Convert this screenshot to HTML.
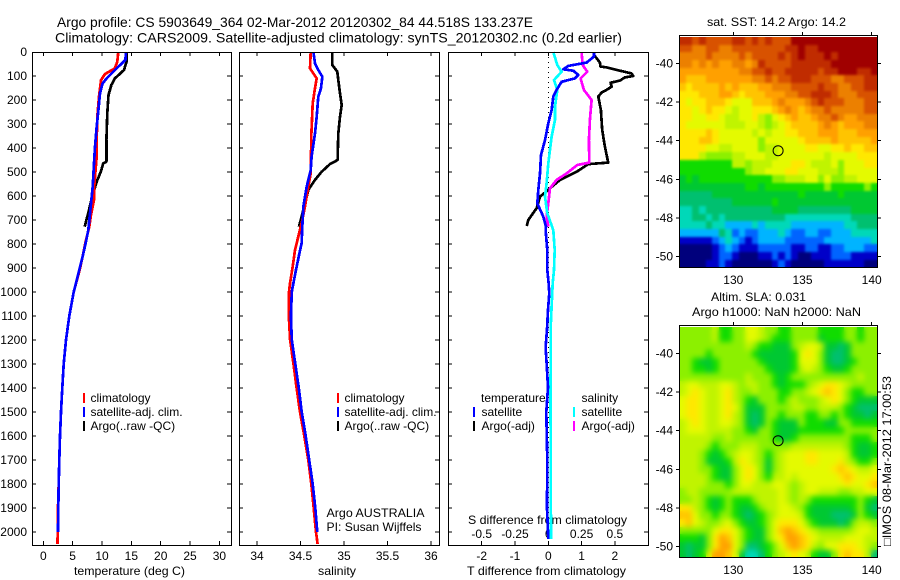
<!DOCTYPE html>
<html lang="en">
<head>
<meta charset="utf-8">
<title>Argo profile</title>
<style>
html,body{margin:0;padding:0;background:#fff;}
svg{display:block;font-family:"Liberation Sans",Arial,sans-serif;}
text{fill:#000;font-size:12px;}
</style>
</head>
<body>
<svg id="chart" xmlns="http://www.w3.org/2000/svg" width="900" height="580" viewBox="0 0 900 580">
<defs>
<filter id="smooth-sst" x="-5%" y="-5%" width="110%" height="110%" color-interpolation-filters="sRGB">
<feGaussianBlur in="SourceGraphic" stdDeviation="1.2" result="b"/>
<feMerge><feMergeNode in="SourceGraphic"/><feMergeNode in="b"/></feMerge>
</filter>
<filter id="smooth-sla" x="-5%" y="-5%" width="110%" height="110%" color-interpolation-filters="sRGB">
<feGaussianBlur in="SourceGraphic" stdDeviation="3" result="b"/>
<feMerge><feMergeNode in="SourceGraphic"/><feMergeNode in="b"/></feMerge>
</filter>
<clipPath id="clip-sst"><rect x="679" y="37" width="198" height="230"/></clipPath>
<clipPath id="clip-sla"><rect x="679" y="327" width="198" height="230"/></clipPath>
</defs>
<rect x="0" y="0" width="900" height="580" fill="#fff"/>
<text x="57" y="27" style="font-size:14px" textLength="476" lengthAdjust="spacingAndGlyphs">Argo profile: CS 5903649_364 02-Mar-2012 20120302_84 44.518S 133.237E</text>
<text x="55" y="42.5" style="font-size:14px" textLength="567" lengthAdjust="spacingAndGlyphs">Climatology: CARS2009. Satellite-adjusted climatology: synTS_20120302.nc (0.2d earlier)</text>
<text x="707" y="26" textLength="139" lengthAdjust="spacingAndGlyphs">sat. SST: 14.2 Argo: 14.2</text>
<text x="711" y="301" textLength="95" lengthAdjust="spacingAndGlyphs">Altim. SLA: 0.031</text>
<text x="692" y="316" textLength="169" lengthAdjust="spacingAndGlyphs">Argo h1000: NaN h2000: NaN</text>
<text transform="translate(891,546) rotate(-90)" x="0" y="0" textLength="170" lengthAdjust="spacingAndGlyphs">&#9633;IMOS 08-Mar-2012 17:00:53</text>
<text x="74" y="575" textLength="111" lengthAdjust="spacingAndGlyphs">temperature (deg C)</text>
<text x="318" y="575" textLength="38" lengthAdjust="spacingAndGlyphs">salinity</text>
<text x="467" y="575" textLength="159" lengthAdjust="spacingAndGlyphs">T difference from climatology</text>
<text x="468" y="524" textLength="159" lengthAdjust="spacingAndGlyphs">S difference from climatology</text>
<text x="326.5" y="517" textLength="98" lengthAdjust="spacingAndGlyphs">Argo AUSTRALIA</text>
<text x="326.5" y="531" textLength="95" lengthAdjust="spacingAndGlyphs">PI: Susan Wijffels</text>
</svg>
<script>
// ---- Profile data ----
const depthTicks = [0,100,200,300,400,500,600,700,800,900,1000,1100,1200,1300,1400,1500,1600,1700,1800,1900,2000];
const tempTicks = [0,5,10,15,20,25,30];
const salTicks = ['34','34.5','35','35.5','36'];
const tDiffTicks = [-2,-1,0,1,2];
const sDiffTicks = ['-0.5','-0.25','0','0.25','0.5'];
const lonTicks = [130,135,140];
const latTicks = [-40,-42,-44,-46,-48,-50];
const argoLon = 133.237;
const argoLat = -44.518;

const tempArgoDepth = [5,40,54,75,110,137,179,255,367,457,464,499,540,589,630,672,707,728];
const tempArgo = [14.2,14.2,14.0,13.75,12.2,11.6,11.1,10.9,10.75,10.75,10.2,9.8,9.1,8.5,8.05,7.65,7.25,7.05];
const tempClimDepth = [0,40,68,92,117,186,269,367,436,519,575,617,686,728,783,839,908,1000,1100,1200,1300,1400,1500,1600,1700,1800,1900,2000,2050];
const tempClim = [12.78,12.61,12.2,10.5,9.83,9.49,9.2,9.09,9.09,8.81,8.64,8.64,8.07,7.84,7.27,6.82,6.2,5.18,4.43,3.87,3.48,3.24,3.02,2.85,2.73,2.62,2.5,2.45,2.42];
const tempSatDepth = [0,33,68,110,131,172,242,311,394,464,561,644,742,790,853,936,1000,1100,1200,1300,1400,1500,1600,1700,1800,1900,2000];
const tempSat = [14.09,13.98,12.5,10.8,10.1,9.66,9.38,9.09,8.81,8.64,8.41,8.07,7.67,7.27,6.7,5.85,5.18,4.43,3.87,3.48,3.24,3.02,2.85,2.73,2.62,2.56,2.5];

const salArgoDepth = [0,54,82,117,172,221,269,339,450,467,499,533,575,631,686,728];
const salArgo = [34.866,34.866,34.923,34.935,34.954,34.973,34.954,34.935,34.927,34.839,34.743,34.667,34.59,34.552,34.513,34.483];
const salClimDepth = [0,68,110,151,214,339,506,561,644,714,769,825,894,964,1000,1100,1200,1300,1400,1500,1600,1700,1800,1900,2000,2050];
const salClim = [34.617,34.609,34.686,34.667,34.64,34.625,34.617,34.59,34.552,34.513,34.475,34.437,34.41,34.379,34.368,34.365,34.38,34.42,34.455,34.494,34.544,34.59,34.624,34.652,34.678,34.697];
const salSatDepth = [0,47,75,103,151,186,269,339,436,492,561,644,728,797,839,908,978,1000,1100,1200,1300,1400,1500,1600,1700,1800,1900,2000];
const salSat = [34.648,34.667,34.705,34.751,34.736,34.705,34.686,34.667,34.628,34.617,34.571,34.533,34.521,34.513,34.487,34.448,34.41,34.40,34.39,34.40,34.44,34.48,34.514,34.56,34.60,34.64,34.67,34.693];

const dTempSatDepth = [0,19,44,58,72,78,96,110,124,158,186,242,297,367,429,506,575,631,686,728,742,825,908,963,1004,1075,1158,1229,1296,1396,1500,1700,1900,2030];
const dTempSat = [1.37,1.37,1.15,0.6,0.45,0.75,0.9,0.8,0.4,0.25,0.15,0.1,0,-0.1,-0.22,-0.25,-0.3,-0.33,-0.15,-0.07,-0.08,-0.03,-0.03,0.01,0.03,-0.01,-0.04,-0.08,-0.05,-0.01,-0.06,-0.03,-0.04,0];
const dTempArgoDepth = [12,26,44,61,64,78,89,100,106,119,128,144,158,169,186,242,325,394,461,467,499,533,568,603,651,700,725];
const dTempArgo = [1.37,1.45,1.55,1.57,1.75,2.15,2.5,2.55,2.3,2.15,1.87,1.9,1.75,1.6,1.5,1.58,1.62,1.7,1.8,1.2,0.85,0.35,0.05,-0.25,-0.35,-0.6,-0.65];
const dSalSatDepth = [0,54,82,117,158,228,283,353,464,547,603,672,742,825,908,963,1060,1144,1300,1396,1700,2030];
const dSalSat = [0.0375,0.0675,0.1,0.0425,0.0675,0.05,0.05,0.025,0,-0.0125,-0.025,-0.0075,0.0375,0.048,0.0425,0.033,0.025,0.018,0.018,0.0165,0.018,0.02];
const dSalArgoDepth = [0,54,82,110,158,200,283,367,461,471,506,533,568,631,686,728];
const dSalArgo = [0.25,0.2575,0.2925,0.2425,0.2675,0.325,0.3125,0.305,0.3075,0.2175,0.1375,0.0625,0.0125,0,-0.0125,0];

// ---- Map data: each character is a colour level (0 = coldest/lowest ... h = warmest/highest) ----
const sstRows = [
"ggfgffffggfgfgfffhhhhhhhhhhhhh",
"ffeeffeeffffffffgghgghhhhhhhhh",
"eeeefeeeefeffffgfghggghghhhhhh",
"eedededdeedegffffgggggghhhhhhh",
"dddddddddeeffgffgggggfgghhhggh",
"dcccdddddddeefeffgggfffeefffgg",
"cbccccdcdcccddeeeffffgffeeffgg",
"bbbcccddcbcccdddeeffgggfeeefff",
"babbcccbaaacccdedddefgfffeeeff",
"bbabcbba9aabbbcdedcdeefeeeeeff",
"bbaabba99aab98abcdccdeefeddeee",
"baaaaaa999aa989abccccdedcdddee",
"bbbbcbaaaaa9a9aabbcccdddcccddd",
"bbbccbaaaaaa8aaaaabccccdcccccd",
"bbbbaa99aaaa899aaaabbaabbcbbcc",
"bbb9888899aaa99aaaaaaa9aaaabbb",
"77777777998999aaabba999a8aaabb",
"7777777777899aaabbaaa9998aaaaa",
"6767777777777788999aa8a8899aaa",
"666666666677677777777787777787",
"555556666666666666766666766666",
"555555556666667666666666666666",
"445455555555556666555555556666",
"445545455555555544444444445555",
"444454433334344443333333344555",
"333333542322333432233223334444",
"111112343212333322222233333334",
"000001232111222221122112233322",
"000001221000112121001112221111",
"000011210000001210000011111100"
];
const slaRows = [
"8888897788aa988778888777788788",
"8888897788aa987778888677788788",
"8888888888987766689aa966568888",
"888878888887666667aba865568888",
"887667888888766667aaa865567888",
"887767888888876667 9a9876678888",
"888888888898887678888888888988",
"9aa999aa9899887677789abba98888",
"9aba99ab988988877889abcba87788",
"abba99ab98768887898889aba87666",
"abba99aba866688889988999876555",
"abba99ab9865688788877887876656",
"9aba99aa9865687666877766887777",
"9aaa99998876887666777777788888",
"999998898888887667888888887778",
"999987888999888889999999987667",
"999876789aa98789aaabbaaaa97667",
"999866679ba98689aaabbaaab98778",
"999887668aba8689aaaaaaabcba99a",
"999987668aba8799a9aaaaaabcbaab",
"999988878aa999aa989aaaaaabaabc",
"8998888899999 99a989aa999889 9a",
"889876787778999a98987777777876",
"bb9876787667899aa987666666 7865",
"cca887887656789aaa976665556876",
"bca9889a876678abbba87666568998",
"88888abba87668acdcba9888889aa9",
"77768bdca87668abddcba9999aaa99",
"65668bdda855678acdcb98aabbba98",
"6567addca6445789aba97668bcbb95"
];
const levelColors = ["#00007c","#0000c8","#0064ff","#00b4ff","#00d8b8","#00c070","#00c832","#10dc00","#8cf000","#c0f400","#e4fa00","#ffe800","#ffc400","#ffa000","#ec8000","#d85200","#c02c00","#a00000"];

// ---- Axis functions ----
const NS = "http://www.w3.org/2000/svg";
const svg = document.getElementById("chart");
const depthY = d => 52 + 0.24 * d;
const tempX = t => 43.3 + 5.87 * t;
const salX = s => 257 + 87 * (s - 34);
const dTX = t => 548.3 + 33.3 * t;
const dSX = s => 548.3 + 133.2 * s;
const lonX = l => 733.3 + 13.84 * (l - 130);
const latOffset = (l) => 63.5 + 19.3 * (-40 - l);

function node(tag, attrs) {
  const el = document.createElementNS(NS, tag);
  for (const k in attrs) el.setAttribute(k, attrs[k]);
  return el;
}
function label(str, x, y, anchor, name) {
  const el = node("text", {x: x, y: y, "text-anchor": anchor});
  el.textContent = str;
  
  
  svg.appendChild(el);
}
function tick(x1, y1, x2, y2, name) {
  const el = node("line", {x1: x1, y1: y1, x2: x2, y2: y2, stroke: "#000", "stroke-width": 1, "shape-rendering": "crispEdges"});
  
  
  svg.appendChild(el);
}
function frame(x0, y0, x1, y1, name) {
  const el = node("rect", {x: x0 + 0.5, y: y0 + 0.5, width: x1 - x0, height: y1 - y0, fill: "none", stroke: "#000", "stroke-width": 1, "shape-rendering": "crispEdges"});
  
  
  svg.appendChild(el);
}
function curve(depths, vals, xFn, color, name) {
  const pts = depths.map((d, i) => xFn(vals[i]).toFixed(1) + "," + depthY(d).toFixed(1)).join(" ");
  const el = node("polyline", {points: pts, fill: "none", stroke: color, "stroke-width": 2.7, "stroke-linejoin": "round", "shape-rendering": "crispEdges"});
  
  
  svg.appendChild(el);
}
function legendMark(x, y, color, name) {
  const el = node("rect", {x: x, y: y, width: 2, height: 10, fill: color});
  
  
  svg.appendChild(el);
}

// ---- Profile panels ----
const panels = [[32, 231], [239, 439], [448, 648]];
panels.forEach(function (p, i) {
  depthTicks.forEach(function (d) {
    if (d === 0) return;
    tick(p[0], depthY(d), p[0] + 4, depthY(d), "depth-tick-left");
    tick(p[1] - 4, depthY(d), p[1], depthY(d), "depth-tick-right");
  });
});
depthTicks.forEach(function (d) { label(String(d), 27, depthY(d) + 4, "end", "depth-tick-label"); });

tempTicks.forEach(function (t) {
  tick(tempX(t), 52, tempX(t), 56, "temperature-top-tick");
  tick(tempX(t), 541, tempX(t), 545, "temperature-bottom-tick");
  label(String(t), tempX(t), 560, "middle", "temperature-tick-label");
});
salTicks.forEach(function (s) {
  const x = salX(parseFloat(s));
  tick(x, 52, x, 56, "salinity-top-tick");
  tick(x, 541, x, 545, "salinity-bottom-tick");
  label(s, x, 560, "middle", "salinity-tick-label");
});
tDiffTicks.forEach(function (t) {
  tick(dTX(t), 52, dTX(t), 56, "t-difference-top-tick");
  tick(dTX(t), 541, dTX(t), 545, "t-difference-bottom-tick");
  label(String(t), dTX(t), 560, "middle", "t-difference-tick-label");
});
sDiffTicks.forEach(function (s) {
  label(s, dSX(parseFloat(s)), 538, "middle", "s-difference-tick-label");
});

const zeroLine = node("line", {x1: dTX(0), y1: 52, x2: dTX(0), y2: 545, stroke: "#000", "stroke-width": 1, "stroke-dasharray": "1 4", "shape-rendering": "crispEdges"});


svg.appendChild(zeroLine);

// Legend text
label("climatology", 90.5, 402, "start", "temperature-legend-climatology");
label("satellite-adj. clim.", 90.5, 416, "start", "temperature-legend-satellite");
label("Argo(..raw -QC)", 90.5, 430, "start", "temperature-legend-argo");
label("climatology", 344.5, 402, "start", "salinity-legend-climatology");
label("satellite-adj. clim.", 344.5, 416, "start", "salinity-legend-satellite");
label("Argo(..raw -QC)", 344.5, 430, "start", "salinity-legend-argo");
label("temperature", 481, 402, "start", "difference-legend-temperature-heading");
label("satellite", 481.5, 416, "start", "difference-legend-t-satellite");
label("Argo(-adj)", 481.5, 430, "start", "difference-legend-t-argo");
label("salinity", 581.5, 402, "start", "difference-legend-salinity-heading");
label("satellite", 581.5, 416, "start", "difference-legend-s-satellite");
label("Argo(-adj)", 581.5, 430, "start", "difference-legend-s-argo");
legendMark(83, 393, "#ff0000", "temperature-legend-red-mark");
legendMark(83, 407, "#0000ff", "temperature-legend-blue-mark");
legendMark(83, 421, "#000000", "temperature-legend-black-mark");
legendMark(337, 393, "#ff0000", "salinity-legend-red-mark");
legendMark(337, 407, "#0000ff", "salinity-legend-blue-mark");
legendMark(337, 421, "#000000", "salinity-legend-black-mark");
legendMark(473, 407, "#0000ff", "difference-legend-blue-mark");
legendMark(473, 421, "#000000", "difference-legend-black-mark");
legendMark(573, 407, "#00ffff", "difference-legend-cyan-mark");
legendMark(573, 421, "#ff00ff", "difference-legend-magenta-mark");

// Curves
curve(tempArgoDepth, tempArgo, tempX, "#000", "temperature-argo-line");
curve(tempClimDepth, tempClim, tempX, "#ff0000", "temperature-climatology-line");
curve(tempSatDepth, tempSat, tempX, "#0000ff", "temperature-satellite-line");
curve(salArgoDepth, salArgo, salX, "#000", "salinity-argo-line");
curve(salClimDepth, salClim, salX, "#ff0000", "salinity-climatology-line");
curve(salSatDepth, salSat, salX, "#0000ff", "salinity-satellite-line");
curve(dTempArgoDepth, dTempArgo, dTX, "#000", "t-difference-argo-line");
curve(dSalArgoDepth, dSalArgo, dSX, "#ff00ff", "s-difference-argo-line");
curve(dSalSatDepth, dSalSat, dSX, "#00ffff", "s-difference-satellite-line");
curve(dTempSatDepth, dTempSat, dTX, "#0000ff", "t-difference-satellite-line");

frame(32, 52, 231, 545, "temperature-panel-frame");
frame(239, 52, 439, 545, "salinity-panel-frame");
frame(448, 52, 648, 545, "difference-panel-frame");

// ---- Maps ----
const lonLeft = 126.098, lonRight = 140.4;
const latTop = -38.627, latBottom = -50.56;
function drawMap(rows, offset, frameTop, name, filterId, clipId) {
  const nRows = rows.length;
  const clip = node("g", {"clip-path": "url(#" + clipId + ")"});
  
  
  svg.appendChild(clip);
  const g = node("g", {"shape-rendering": "crispEdges", filter: "url(#" + filterId + ")"});
  
  
  clip.appendChild(g);
  rows.forEach(function (row, r) {
    const cells = row.replace(/\s/g, "");
    const y0 = Math.round(latOffset(latTop + (latBottom - latTop) * r / nRows) + offset);
    const y1 = Math.round(latOffset(latTop + (latBottom - latTop) * (r + 1) / nRows) + offset);
    for (let c = 0; c < 30; c++) {
      const level = parseInt(cells[c] || cells[cells.length - 1], 18);
      const x0 = Math.round(lonX(lonLeft + (lonRight - lonLeft) * c / 30));
      const x1 = Math.round(lonX(lonLeft + (lonRight - lonLeft) * (c + 1) / 30));
      const cell = node("rect", {x: x0, y: y0, width: x1 - x0, height: y1 - y0, fill: levelColors[level]});
      
      
      g.appendChild(cell);
    }
  });
  const bottom = Math.round(latOffset(latBottom) + offset);
  frame(679, frameTop, 877, bottom, name + "-frame");
  lonTicks.forEach(function (l) {
    tick(lonX(l), frameTop - 3, lonX(l), frameTop, name + "-lon-tick");
    label(String(l), lonX(l), bottom + 17, "middle", name + "-lon-label");
  });
  latTicks.forEach(function (l) {
    const y = latOffset(l) + offset;
    tick(676, y, 679, y, name + "-lat-tick-left");
    tick(877, y, 881, y, name + "-lat-tick-right");
    label(String(l), 673, y + 4, "end", name + "-lat-label");
  });
  const mark = node("circle", {cx: lonX(argoLon), cy: latOffset(argoLat) + offset, r: 5, fill: "none", stroke: "#000", "stroke-width": 1});
  
  
  svg.appendChild(mark);
}
drawMap(sstRows, 0, 35, "sst-map", "smooth-sst", "clip-sst");
drawMap(slaRows, 290, 325, "sla-map", "smooth-sla", "clip-sla");
</script>
</body>
</html>
